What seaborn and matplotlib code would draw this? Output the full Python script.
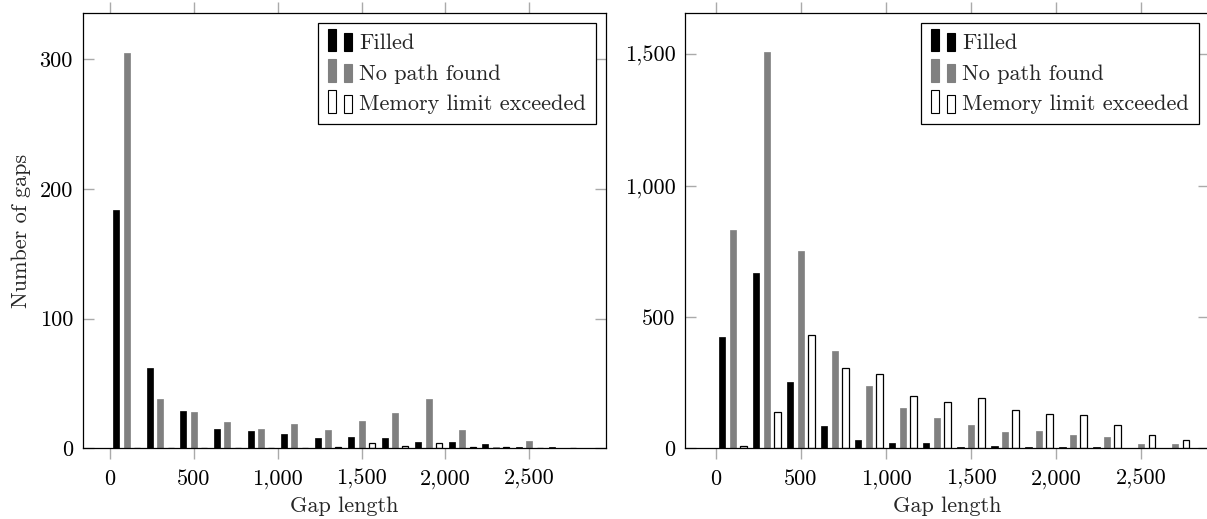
import numpy as np
import pandas as pd
import matplotlib
matplotlib.use("Agg")
import matplotlib.pyplot as plt
import seaborn as sns
from matplotlib.legend_handler import HandlerBase
from matplotlib.patches import Rectangle
from matplotlib.ticker import StrMethodFormatter

# gap length bins (width 200), bars at bin centres
bin_centers = list(range(100, 2800, 200))
statuses = ["Filled", "No path found", "Memory limit exceeded"]
status_colors = {"Filled": "black", "No path found": "#808080", "Memory limit exceeded": "white"}

# left panel
left_filled = [184, 62, 29, 15, 13, 11, 8, 9, 8, 5, 5, 3, 1, 1]
left_nopath = [305, 38, 28, 20, 15, 19, 14, 21, 27, 38, 14, 1, 6, 0]
left_memory = [0, 0, 0, 0, 0, 0, 1, 4, 2, 4, 1, 1, 0, 0]

# right panel
right_filled = [425, 669, 251, 85, 32, 20, 19, 6, 10, 6, 5, 5, 3, 2]
right_nopath = [831, 1507, 751, 370, 238, 154, 115, 90, 62, 67, 52, 42, 15, 17]
right_memory = [7, 137, 431, 304, 283, 199, 175, 190, 146, 132, 127, 89, 50, 33]

left_yticks = [0, 100, 200, 300]
right_yticks = [0, 500, 1000, 1500]
xticks = [0, 500, 1000, 1500, 2000, 2500]

FS = 16


def make_frame(filled, nopath, memory):
    return pd.DataFrame({
        "gap": bin_centers * 3,
        "count": filled + nopath + memory,
        "status": np.repeat(statuses, len(bin_centers)),
    })


class TwoBars(HandlerBase):
    # pgfplots style legend image: two small bars
    def create_artists(self, legend, orig_handle, xdescent, ydescent,
                       width, height, fontsize, trans):
        fc = orig_handle.get_facecolor()
        ec = orig_handle.get_edgecolor()
        bw = width * 0.34
        y0 = -ydescent - 0.15 * height
        r1 = Rectangle((-xdescent, y0), bw, height * 1.45, facecolor=fc,
                       edgecolor=ec, linewidth=0.8, transform=trans)
        r2 = Rectangle((-xdescent + width - bw, y0), bw, height * 1.15,
                       facecolor=fc, edgecolor=ec, linewidth=0.8, transform=trans)
        return [r1, r2]


sns.set_theme(style="ticks")
plt.rcParams["font.family"] = ["cmr10", "DejaVu Serif"]
plt.rcParams["axes.formatter.use_mathtext"] = True
plt.rcParams["font.size"] = FS

fig = plt.figure(figsize=(12.07, 5.19), dpi=100)
ax1 = fig.add_axes([0.0685, 0.1362, 0.4336, 0.8382])
ax2 = fig.add_axes([0.5678, 0.1362, 0.4336, 0.8382])

panels = [
    (ax1, make_frame(left_filled, left_nopath, left_memory), (-163, 2958), 335.4, left_yticks),
    (ax2, make_frame(right_filled, right_nopath, right_memory), (-180, 2898), 1656, right_yticks),
]

for ax, df, xlim, ymax, yticks in panels:
    sns.barplot(data=df, x="gap", y="count", hue="status", hue_order=statuses,
                native_scale=True, dodge=True, width=0.93, gap=0.42,
                palette=status_colors, saturation=1, errorbar=None,
                legend=False, ax=ax)
    for p in ax.patches:
        fc = p.get_facecolor()
        if sum(fc[:3]) > 2.9:
            p.set_edgecolor("black")
            p.set_linewidth(0.9)
        else:
            p.set_edgecolor(fc)
            p.set_linewidth(0.5)
    ax.set_xlim(*xlim)
    ax.set_ylim(0, ymax)
    ax.set_xticks(xticks)
    ax.set_yticks(yticks)
    ax.xaxis.set_major_formatter(StrMethodFormatter("{x:,.0f}"))
    ax.yaxis.set_major_formatter(StrMethodFormatter("{x:,.0f}"))
    ax.tick_params(axis="x", direction="out", top=True, bottom=True, length=8,
                   width=1, color="#aaaaaa", labelcolor="black", labelsize=FS, pad=7)
    ax.tick_params(axis="y", direction="in", left=True, right=True, length=8,
                   width=1, color="#aaaaaa", labelcolor="black", labelsize=FS, pad=7)
    for s in ax.spines.values():
        s.set_color("black")
        s.set_linewidth(0.9)
    ax.set_xlabel("Gap length", fontsize=FS, labelpad=5)
    ax.set_ylabel("")

    handles = [Rectangle((0, 0), 1, 1, facecolor=status_colors[s],
                         edgecolor="black" if s != "No path found" else "#808080")
               for s in statuses]
    leg = ax.legend(handles=handles, labels=statuses, loc="upper right",
                    handler_map={Rectangle: TwoBars()}, frameon=True, fancybox=False,
                    edgecolor="black", framealpha=1, fontsize=FS, borderaxespad=0.45,
                    handlelength=1.1, handletextpad=0.3, labelspacing=0.5,
                    borderpad=0.45)
    leg.get_frame().set_linewidth(0.9)

ax1.set_ylabel("Number of gaps", fontsize=FS, labelpad=6)

fig.savefig("out.png", dpi=100)
